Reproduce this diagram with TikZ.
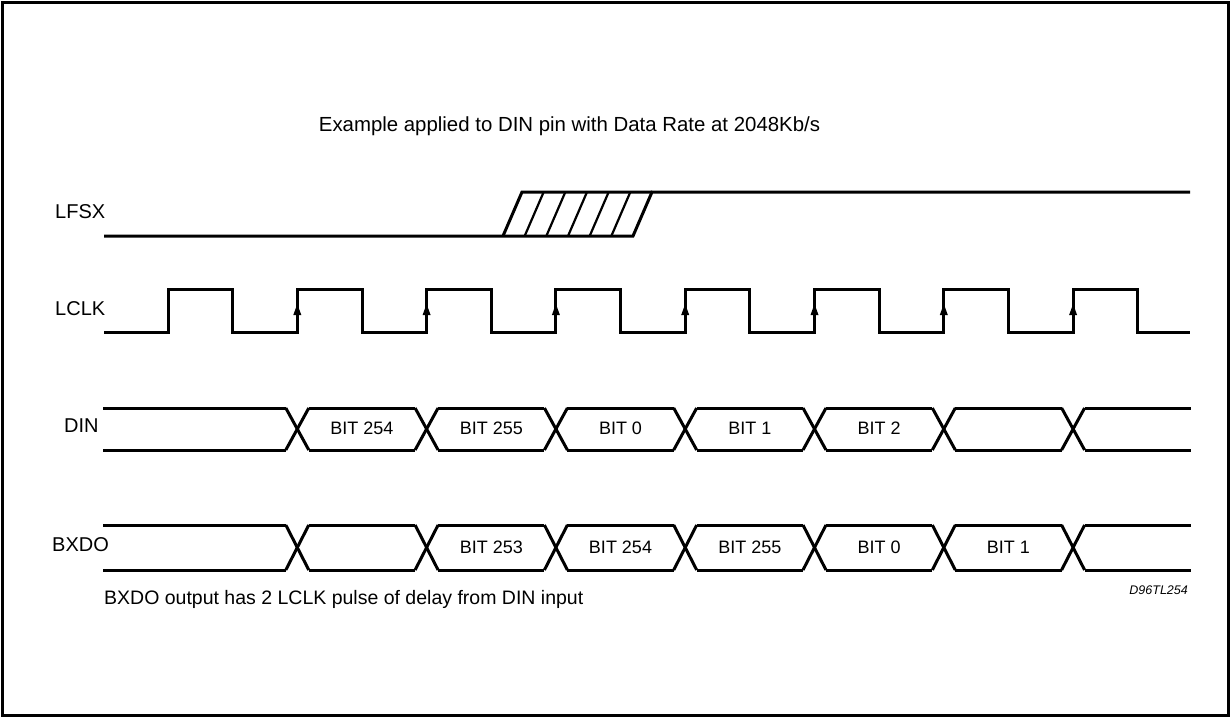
\documentclass[tikz,border=0pt]{standalone}
\usepackage{fontspec}
\setmainfont{Liberation Sans}
\begin{document}
\begin{tikzpicture}[x=1pt,y=-1pt,
  sig/.style={line width=3pt,line join=miter,line cap=butt},
  lbl/.style={inner sep=0pt,font=\fontsize{20}{22}\selectfont},
  bitlbl/.style={inner sep=0pt,font=\fontsize{18}{20}\selectfont},
  hatch/.style={line width=2.2pt}]
\useasboundingbox (0,0) rectangle (1231,717);
\draw[line width=3pt] (2.5,2.5) rectangle (1228,715);
% title
\node[lbl,font=\fontsize{20.4}{22}\selectfont] (title) at (569.5,126) {Example applied to DIN pin with Data Rate at 2048Kb/s};
% signal names
\node[lbl,anchor=west] (lfsx) at (55,212) {LFSX};
\node[lbl,anchor=west] (lclk) at (55,309) {LCLK};
\node[lbl,anchor=west] (din) at (64,426) {DIN};
\node[lbl,anchor=west] (bxdo) at (52,545) {BXDO};
% LFSX
\draw[sig] (104,236) -- (633,236) -- (652,192) -- (1190,192);
\draw[sig] (503,236) -- (522,192) -- (652,192);
\foreach \k in {1,...,5} {
  \draw[hatch] ({503+\k*21.67},236) -- ({522+\k*21.67},192);
}
% LCLK
\draw[sig] (104,332)
  \foreach \r in {168,297.3,426.6,555.9,685.2,814.5,943.8,1073.1} {
    -- (\r,332) -- (\r,289) -- ({\r+64.7},289) -- ({\r+64.7},332)
  } -- (1190,332);
\foreach \r in {297.3,426.6,555.9,685.2,814.5,943.8,1073.1} {
  \fill (\r-4,315) -- (\r+4,315) -- (\r,304) -- cycle;
}
% buses
\foreach \t/\b in {408/450,525/570} {
  \draw[sig] (103,\t) -- (286,\t);
  \draw[sig] (103,\b) -- (286,\b);
  \foreach \c [count=\i] in {297.3,426.6,555.9,685.2,814.5,943.8,1073.1} {
    \draw[sig] (\c-11.5,\t) -- (\c+11.5,\b);
    \draw[sig] (\c-11.5,\b) -- (\c+11.5,\t);
  }
  \foreach \c/\d in {297.3/426.6,426.6/555.9,555.9/685.2,685.2/814.5,814.5/943.8,943.8/1073.1} {
    \draw[sig] (\c+11.5,\t) -- (\d-11.5,\t);
    \draw[sig] (\c+11.5,\b) -- (\d-11.5,\b);
  }
  \draw[sig] (1084.6,\t) -- (1191,\t);
  \draw[sig] (1084.6,\b) -- (1191,\b);
}
% DIN labels
\node[bitlbl] (d1) at (362,428) {BIT 254};
\node[bitlbl] (d2) at (491.3,428) {BIT 255};
\node[bitlbl] (d3) at (620.5,428) {BIT 0};
\node[bitlbl] (d4) at (749.8,428) {BIT 1};
\node[bitlbl] (d5) at (879.1,428) {BIT 2};
% BXDO labels
\node[bitlbl] (b1) at (491.3,547) {BIT 253};
\node[bitlbl] (b2) at (620.5,547) {BIT 254};
\node[bitlbl] (b3) at (749.8,547) {BIT 255};
\node[bitlbl] (b4) at (879.1,547) {BIT 0};
\node[bitlbl] (b5) at (1008.4,547) {BIT 1};
% notes
\node[lbl,anchor=west,font=\fontsize{19.5}{22}\selectfont] (note) at (104,599) {BXDO output has 2 LCLK pulse of delay from DIN input};
\node[inner sep=0pt,anchor=east,font=\fontsize{12.5}{14}\selectfont\itshape] (code) at (1188,590) {D96TL254};
\end{tikzpicture}
\end{document}
